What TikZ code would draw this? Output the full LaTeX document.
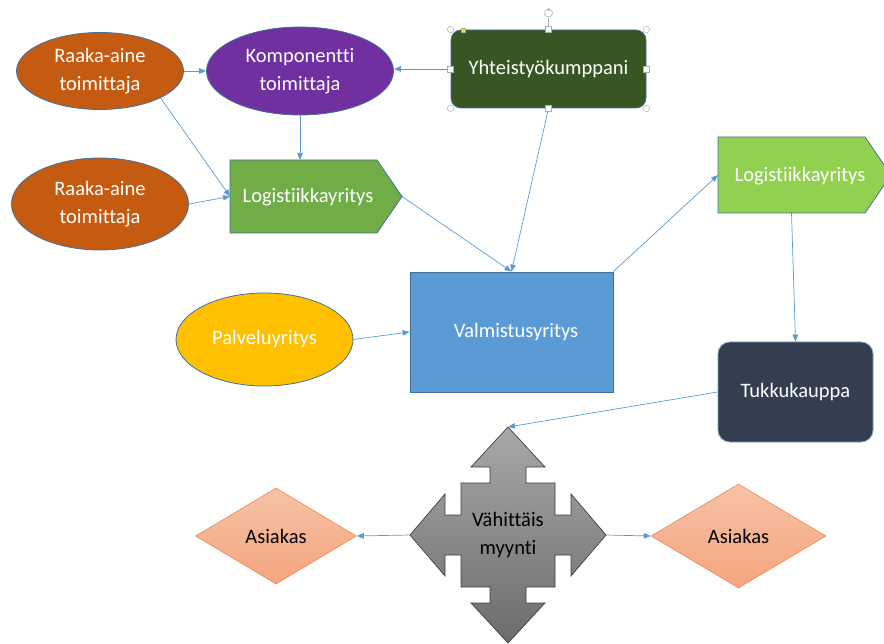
\documentclass[tikz,border=0pt]{standalone}
\usepackage{fontspec}
\setmainfont{Carlito}[Ligatures=NoCommon]
\usetikzlibrary{shapes.geometric,arrows.meta,calc}

\definecolor{rust}{HTML}{C55A11}
\definecolor{plum}{HTML}{7030A0}
\definecolor{forest}{HTML}{375623}
\definecolor{leafA}{HTML}{70AD47}
\definecolor{leafB}{HTML}{92D050}
\definecolor{skyfill}{HTML}{5B9BD5}
\definecolor{amber}{HTML}{FFC000}
\definecolor{slate}{HTML}{333F50}
\definecolor{edgeblue}{HTML}{41719C}
\definecolor{linkblue}{HTML}{5B9BD5}
\definecolor{peachT}{HTML}{F6C2A6}
\definecolor{peachB}{HTML}{F4A57E}
\definecolor{peachEdge}{HTML}{EE8A50}
\definecolor{greyT}{HTML}{A8A8A8}
\definecolor{greyB}{HTML}{6C6C6C}
\definecolor{greyEdge}{HTML}{3F3F3F}

\newcommand\diagfont{\fontsize{20.5}{27.5}\selectfont}

\tikzset{
  box/.style={draw=edgeblue, line width=0.8pt, text=white, font=\diagfont,
    align=center, inner sep=0pt},
  oval/.style={box, ellipse},
  anchorbox/.style={inner sep=0pt, outer sep=0pt},
  plainlabel/.style={text=white, font=\diagfont, align=center, inner sep=0pt},
  peach/.style={diamond, draw=peachEdge, line width=0.6pt, top color=peachT,
    bottom color=peachB, font=\diagfont, text=black, inner sep=0pt},
  link/.style={draw=linkblue, line width=0.7pt,
    -{Triangle[length=7pt,width=5.5pt]}},
  handle/.style={draw=gray!65, fill=white, line width=0.5pt}
}

\begin{document}
\begin{tikzpicture}[x=1pt,y=-1pt]
\useasboundingbox (0,0) rectangle (884,644);
\clip (0,0) rectangle (884,644);

% suppliers and component supplier
\node[oval, fill=rust, minimum width=167pt, minimum height=77pt]
  (raaka1) at (100,71) {Raaka-aine\\toimittaja};
\node[oval, fill=plum, minimum width=187pt, minimum height=88pt]
  (komp) at (300,71) {Komponentti\\toimittaja};
\node[oval, fill=rust, minimum width=177pt, minimum height=92pt]
  (raaka2) at (100,204) {Raaka-aine\\toimittaja};

% partner
\node[box, fill=forest, rounded corners=10pt, minimum width=195pt,
  minimum height=78pt] (yht) at (548.5,69) {Yhteistyökumppani};

% first logistics company (pentagon)
\draw[draw=edgeblue, line width=0.8pt, fill=leafA]
  (230,160) -- (377,160) -- (402,196.5) -- (377,233) -- (230,233) -- cycle;
\node[anchorbox, minimum width=147pt, minimum height=73pt] (logA) at (303.5,196.5) {};
\coordinate (logAtip) at (402,196.5);
\node[plainlabel] (logAtext) at (308,197) {Logistiikkayritys};

% manufacturer and service company
\node[box, fill=skyfill, minimum width=203pt, minimum height=120pt]
  (valm) at (511.5,332) {\hspace*{9pt}Valmistusyritys};
\node[oval, fill=amber, minimum width=177pt, minimum height=93pt]
  (palv) at (264.5,339.5) {Palveluyritys};

% second logistics company (pentagon)
\draw[draw=edgeblue, line width=0.8pt, fill=leafB]
  (718,137) -- (865,137) -- (891,175) -- (865,213) -- (718,213) -- cycle;
\node[anchorbox, minimum width=147pt, minimum height=76pt] (logB) at (791.5,175) {};
\node[plainlabel] (logBtext) at (800,176) {Logistiikkayritys};

% wholesale
\node[box, fill=slate, draw=edgeblue!70, rounded corners=12pt,
  minimum width=155pt, minimum height=100pt] (tukku) at (795.5,392) {Tukkukauppa};

% retail: four-way arrow
\draw[draw=greyEdge, line width=0.7pt, top color=greyT, bottom color=greyB]
  (508,535) ++(0,-108) -- ++(37,40) -- ++(-19,0) -- ++(0,16) -- ++(29,0)
  -- ++(0,32) -- ++(16,0) -- ++(0,-21) -- ++(35,41) -- ++(-35,41) -- ++(0,-21)
  -- ++(-16,0) -- ++(0,32) -- ++(-29,0) -- ++(0,16) -- ++(19,0) -- ++(-37,40)
  -- ++(-37,-40) -- ++(19,0) -- ++(0,-16) -- ++(-29,0) -- ++(0,-32) -- ++(-16,0)
  -- ++(0,21) -- ++(-35,-41) -- ++(35,-41) -- ++(0,21) -- ++(16,0) -- ++(0,-32)
  -- ++(29,0) -- ++(0,-16) -- ++(-19,0) -- cycle;
\node[anchorbox, minimum width=196pt, minimum height=216pt, font=\diagfont,
  align=center] (vah) at (508,535) {Vähittäis\\myynti};

% customers
\node[peach, minimum width=161pt, minimum height=96pt] (asA) at (276,536) {Asiakas};
\node[peach, minimum width=175pt, minimum height=104pt] (asB) at (738.5,536) {Asiakas};

% connectors
\draw[link] (raaka1.east) -- (komp.west);
\draw[link] (yht.west) -- (yht.west -| komp.east);
\draw[link] (komp.south) -- (komp.south |- logA.north);
\draw[link] (raaka1.-24) -- (logA.west);
\draw[link] (raaka2.east) -- (logA.west);
\draw[link] (logAtip) -- (valm.north);
\draw[link] (yht.south) -- (valm.north);
\draw[link] (palv.east) -- (valm.west);
\draw[link] (valm.north east) -- (logB.west);
\draw[link] (logB.south) -- (tukku.north);
\draw[link] (tukku.west) -- (vah.north);
\draw[link] (vah.west) -- (asA.east);
\draw[link] (vah.east) -- (asB.west);

% selection handles on the partner box
\draw[gray!65, line width=0.5pt] (yht.north) -- ++(0,-12);
\draw[gray!65, line width=0.6pt] (548.5,13) ++(60:4pt) arc[start angle=60, end angle=-240, radius=4pt];
\draw[gray!65, line width=0.5pt, -{Triangle[length=2.5pt,width=3pt]}] (546.5,9.6) -- (550.5,9.6);
\foreach \p in {yht.north west, yht.north east, yht.south west, yht.south east}
  \path[handle] (\p) circle[radius=3.2pt];
\foreach \p in {yht.north, yht.south, yht.west, yht.east}
  \path[handle] ($(\p)+(-3,-3)$) rectangle ($(\p)+(3,3)$);
\path[fill=yellow!85!orange, draw=gray!70, line width=0.4pt] (461,28) rectangle (465.5,32.5);
\end{tikzpicture}
\end{document}
